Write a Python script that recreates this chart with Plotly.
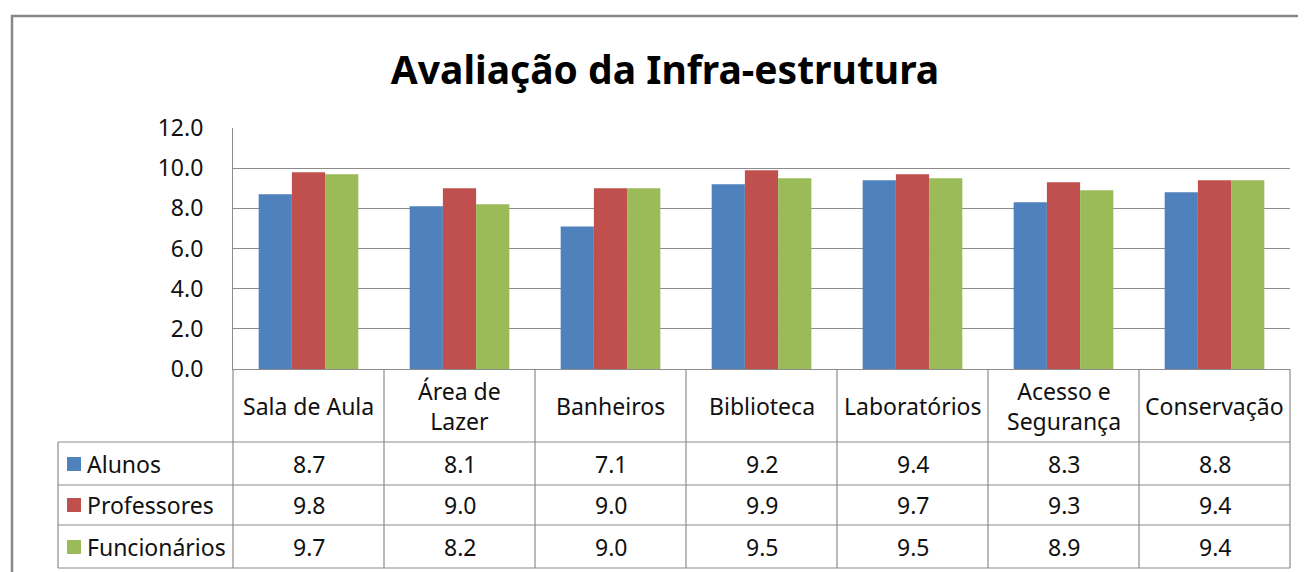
import plotly.graph_objects as go

categories = ["Sala de Aula", "Área de Lazer", "Banheiros", "Biblioteca",
              "Laboratórios", "Acesso e Segurança", "Conservação"]
header_labels = ["Sala de Aula", "Área de<br>Lazer", "Banheiros", "Biblioteca",
                 "Laboratórios", "Acesso e<br>Segurança", "Conservação"]
series_names = ["Alunos", "Professores", "Funcionários"]
alunos = [8.7, 8.1, 7.1, 9.2, 9.4, 8.3, 8.8]
professores = [9.8, 9.0, 9.0, 9.9, 9.7, 9.3, 9.4]
funcionarios = [9.7, 8.2, 9.0, 9.5, 9.5, 8.9, 9.4]
series_values = [alunos, professores, funcionarios]
colors = ["#4F81BD", "#C0504D", "#9BBB59"]
y_ticks = [0, 2, 4, 6, 8, 10, 12]

W, H = 1306, 572
OFF = 8  # page body margin
PL, PR, PT, PB = 233, 1290, 128, 369  # target plot box in window pixels
L, R, T, B = PL - OFF, W - (PR - OFF), PT - OFF, H - (PB - OFF)
plot_h = PB - PT
plot_w = PR - PL
FONT = "Noto Sans"
GRID = "#8c8c8c"
TXT = "#111111"
FS = 23

def py(ypx):
    return (PB - ypx) / plot_h

def px(xpx):
    return (xpx - PL) / plot_w

n = len(categories)
xs = list(range(n))

fig = go.Figure()
for name, vals, c in zip(series_names, series_values, colors):
    fig.add_trace(go.Bar(x=xs, y=vals, name=name, marker=dict(color=c, line=dict(width=0)),
                         showlegend=False))

shapes = []
ann = []
# Outer chart border
shapes.append(dict(type="rect", xref="paper", yref="paper", x0=px(12), x1=px(1330),
                   y0=py(16), y1=py(600), line=dict(color="#888888", width=2.5)))

# table horizontal lines
row_lines = [442, 485, 525, 568]
for y in row_lines:
    shapes.append(dict(type="line", xref="paper", yref="paper", x0=px(58), x1=1,
                       y0=py(y), y1=py(y), line=dict(color=GRID, width=1.2)))
# table vertical lines
shapes.append(dict(type="line", xref="paper", yref="paper", x0=px(58), x1=px(58),
                   y0=py(442), y1=py(568), line=dict(color=GRID, width=1.2)))
for i in range(n + 1):
    xb = i / n
    shapes.append(dict(type="line", xref="paper", yref="paper", x0=xb, x1=xb,
                       y0=0, y1=py(568), line=dict(color=GRID, width=1.2)))

# header labels
for i, lab in enumerate(header_labels):
    ann.append(dict(x=i, xref="x", y=py(406), yref="paper", text=lab, showarrow=False,
                    xanchor="center", yanchor="middle", align="center",
                    font=dict(family=FONT, size=FS, color=TXT)))

# rows
row_centers = [464, 505, 547]
for r, (name, vals, c) in enumerate(zip(series_names, series_values, colors)):
    yc = row_centers[r]
    shapes.append(dict(type="rect", xref="paper", yref="paper", x0=px(67), x1=px(81),
                       y0=py(yc - 7), y1=py(yc + 7), fillcolor=c, line=dict(width=0)))
    ann.append(dict(x=px(85), xref="paper", y=py(yc), yref="paper", text=name,
                    showarrow=False, xanchor="left", yanchor="middle",
                    font=dict(family=FONT, size=FS, color=TXT)))
    for i, v in enumerate(vals):
        ann.append(dict(x=i, xref="x", y=py(yc), yref="paper", text=f"{v:.1f}",
                        showarrow=False, xanchor="center", yanchor="middle",
                        font=dict(family=FONT, size=FS, color=TXT)))

fig.update_layout(
    width=W, height=H,
    margin=dict(l=L, r=R, t=T, b=B, pad=0),
    paper_bgcolor="white", plot_bgcolor="white",
    barmode="group", bargap=0.34, bargroupgap=0,
    title=dict(text="<b>Avaliação da Infra-estrutura</b>", x=px(665), xanchor="center",
               xref="paper", y=1 - (70 - OFF) / H, yanchor="middle",
               font=dict(family=FONT, size=39, color="#000")),
    xaxis=dict(range=[-0.5, n - 0.5], showticklabels=False, showgrid=False, zeroline=False,
               showline=True, linecolor=GRID, linewidth=1.2, ticks=""),
    yaxis=dict(range=[0, 12], tickvals=y_ticks, ticktext=[f"{t:.1f}" for t in y_ticks],
               showgrid=True, gridcolor=GRID, gridwidth=1.2, zeroline=False,
               showline=True, linecolor=GRID, linewidth=1.2,
               ticks="outside", ticklen=24, tickcolor="rgba(0,0,0,0)",
               tickfont=dict(family=FONT, size=FS, color=TXT)),
    shapes=shapes, annotations=ann,
)

fig.write_html("out.html")
